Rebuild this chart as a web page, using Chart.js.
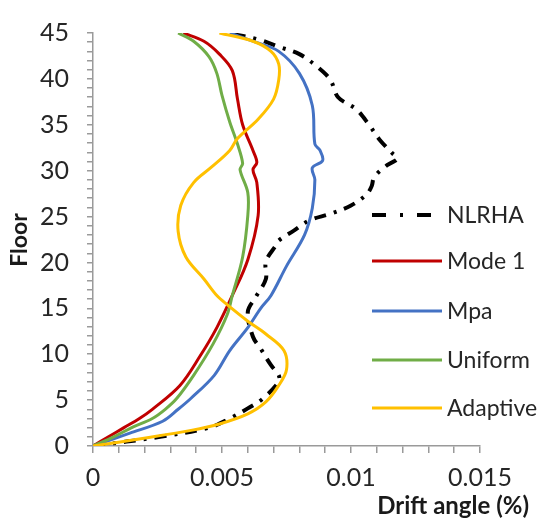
<!DOCTYPE html>
<html>
<head>
<meta charset="utf-8">
<script src="https://cdn.jsdelivr.net/npm/chart.js@4/dist/chart.umd.min.js"></script>
<style>
html,body{margin:0;padding:0;background:#fff;}
#wrap{position:relative;width:548px;height:527px;}
</style>
</head>
<body>
<div id="wrap"><canvas id="c" width="548" height="527"></canvas></div>
<script>
// ---- data (drift angle in %, floor) ----
const nlrhaFloor = [0, 1, 2, 3, 4.1, 5.2, 7, 7.7, 8.8, 10.6, 11.9, 14.6, 16.2, 18.2, 20.1, 21.9, 22.4, 23.5, 24.6, 25.3, 26.2, 27.4, 28.3, 29.3, 30.6, 31.3, 31.9, 33.4, 35, 36.7, 38, 39.9, 41.3, 42.7, 43.5, 44.3, 45];
const nlrhaDrift = [0, 0.0026, 0.0045, 0.0053, 0.0060, 0.0066, 0.0072, 0.0072, 0.0069, 0.0065, 0.0062, 0.0060, 0.0063, 0.0067, 0.0067, 0.0071, 0.0072, 0.0078, 0.0084, 0.0092, 0.0100, 0.0106, 0.0108, 0.0109, 0.0114, 0.0118, 0.0116, 0.0111, 0.0107, 0.0102, 0.0095, 0.0092, 0.0087, 0.0080, 0.0072, 0.0064, 0.0052];

const mode1Floor = [0, 1, 2, 3, 4, 6.6, 9.8, 12.9, 16.4, 20.3, 25.1, 28.7, 30.1, 30.9, 32.2, 35, 37.8, 40.9, 42.7, 44.1, 45];
const mode1Drift = [0, 0.0006, 0.0012, 0.0018, 0.0023, 0.00337, 0.00415, 0.0048, 0.0054, 0.0060, 0.0064, 0.00635, 0.0062, 0.00635, 0.0062, 0.0058, 0.0056, 0.0054, 0.0049, 0.0043, 0.0035];

const mpaFloor = [0, 1.4, 2.7, 4, 5.2, 7.7, 10.4, 12.9, 15, 16.4, 19.6, 23, 25.9, 29, 30.3, 31.1, 32.2, 32.9, 37.1, 40.6, 43, 44, 45];
const mpaDrift = [0, 0.00143, 0.0027, 0.0033, 0.0038, 0.0047, 0.0053, 0.0060, 0.0065, 0.0069, 0.0075, 0.0082, 0.0085, 0.0086, 0.0085, 0.0089, 0.0088, 0.0086, 0.0085, 0.0080, 0.0072, 0.0063, 0.0053];

const uniformFloor = [0, 1, 2, 3, 4, 5.2, 7.7, 11.1, 14.3, 16.4, 20.6, 25.1, 27.6, 30.1, 30.8, 32.9, 35.3, 38.2, 40.6, 42.4, 44.1, 45];
const uniformDrift = [0, 0.0008, 0.0015, 0.0023, 0.0028, 0.00325, 0.0039, 0.00465, 0.0052, 0.0054, 0.0058, 0.0060, 0.0060, 0.0057, 0.0058, 0.0056, 0.0053, 0.0050, 0.0048, 0.0045, 0.0039, 0.0033];

const adaptiveFloor = [0, 0.9, 1.7, 2.4, 3.5, 4.8, 6.6, 8.3, 10.4, 12.2, 13.6, 15.4, 16.4, 18.2, 20.6, 23.4, 26.2, 28.7, 30.4, 32.2, 33.5, 35.6, 37.8, 39.9, 41.6, 43, 44.1, 45];
const adaptiveDrift = [0, 0.0021, 0.0038, 0.0049, 0.0060, 0.0067, 0.0072, 0.0075, 0.0074, 0.0067, 0.0060, 0.0052, 0.0048, 0.0043, 0.0036, 0.0033, 0.0034, 0.0039, 0.0046, 0.0053, 0.0056, 0.0064, 0.0070, 0.0072, 0.0072, 0.0069, 0.0062, 0.0049];

const seriesNames = ['NLRHA', 'Mode 1', 'Mpa', 'Uniform', 'Adaptive'];
const xTickLabels = ['0', '0.005', '0.01', '0.015'];
const yTickLabels = ['0', '5', '10', '15', '20', '25', '30', '35', '40', '45'];
const xTitle = 'Drift angle (%)';
const yTitle = 'Floor';

function pts(xs, ys) { return xs.map((x, i) => ({x: x, y: ys[i]})); }

const FONT = 'Lato, "Open Sans", sans-serif';
const colors = ['#000000', '#C00000', '#4472C4', '#70AD47', '#FFC000'];
const widths = [4, 3, 3, 3, 3];
const dashes = [[12, 8, 3, 8], [], [], [], []];
const dataSets = [
  pts(nlrhaDrift, nlrhaFloor),
  pts(mode1Drift, mode1Floor),
  pts(mpaDrift, mpaFloor),
  pts(uniformDrift, uniformFloor),
  pts(adaptiveDrift, adaptiveFloor)
];

// draw order: colored lines first, NLRHA on top
const order = [4, 3, 1, 2, 0];
const datasets = order.map(i => ({
  label: seriesNames[i],
  data: dataSets[i],
  showLine: true,
  borderColor: colors[i],
  backgroundColor: colors[i],
  borderWidth: widths[i],
  borderDash: dashes[i],
  pointRadius: 0,
  tension: 0.35,
  fill: false
}));

const legendPlugin = {
  id: 'customLegendTitles',
  afterDraw(chart) {
    const ctx = chart.ctx;
    ctx.save();
    // legend
    const rows = [215, 261, 311, 360, 408];
    ctx.font = '23px ' + FONT;
    ctx.textBaseline = 'middle';
    ctx.textAlign = 'left';
    for (let i = 0; i < seriesNames.length; i++) {
      const y = rows[i];
      ctx.beginPath();
      ctx.strokeStyle = colors[i];
      ctx.lineWidth = widths[i];
      ctx.setLineDash(dashes[i].length ? [14, 14, 3, 14] : []);
      ctx.moveTo(372, y);
      ctx.lineTo(442, y);
      ctx.stroke();
      ctx.setLineDash([]);
      ctx.fillStyle = '#262626';
      ctx.fillText(seriesNames[i], 447, y + 1);
    }
    // axis titles
    ctx.fillStyle = '#1a1a1a';
    ctx.font = 'bold 24px ' + FONT;
    ctx.textAlign = 'right';
    ctx.textBaseline = 'middle';
    ctx.fillText(xTitle, 529, 506);
    ctx.translate(20, 240);
    ctx.rotate(-Math.PI / 2);
    ctx.textAlign = 'center';
    ctx.font = 'bold 23px ' + FONT;
    ctx.fillText(yTitle, 0, 0);
    ctx.restore();
  }
};

function near(v, step) { return Math.abs(v / step - Math.round(v / step)) < 1e-6; }

new Chart(document.getElementById('c'), {
  type: 'scatter',
  data: { datasets: datasets },
  options: {
    responsive: false,
    animation: false,
    devicePixelRatio: 1,
    layout: { padding: { top: 18, right: 68, left: 0, bottom: 0 } },
    plugins: { legend: { display: false }, tooltip: { enabled: false } },
    scales: {
      x: {
        type: 'linear',
        min: 0, max: 0.015,
        afterFit(s) { s.height = 81; },
        border: { display: true, color: '#9a9a9a', width: 1.5 },
        grid: { display: true, drawOnChartArea: false, drawTicks: true, tickLength: 7, color: '#9a9a9a', lineWidth: 1.5 },
        ticks: {
          stepSize: 0.001, autoSkip: false, maxRotation: 0, padding: 10,
          color: '#262626', font: { family: FONT, size: 25 },
          callback(v) {
            if (!near(v, 0.005)) return '';
            return xTickLabels[Math.round(v / 0.005)];
          }
        }
      },
      y: {
        type: 'linear',
        min: 0, max: 45,
        afterFit(s) { s.width = 93; },
        border: { display: true, color: '#9a9a9a', width: 1.5 },
        grid: { display: true, drawOnChartArea: false, drawTicks: true, tickLength: 6, color: '#9a9a9a', lineWidth: 1.5 },
        ticks: {
          stepSize: 1, autoSkip: false, padding: 18,
          color: '#262626', font: { family: FONT, size: 25 },
          callback(v) {
            if (!near(v, 5)) return '';
            return yTickLabels[Math.round(v / 5)];
          }
        }
      }
    }
  },
  plugins: [legendPlugin]
});
</script>
</body>
</html>
